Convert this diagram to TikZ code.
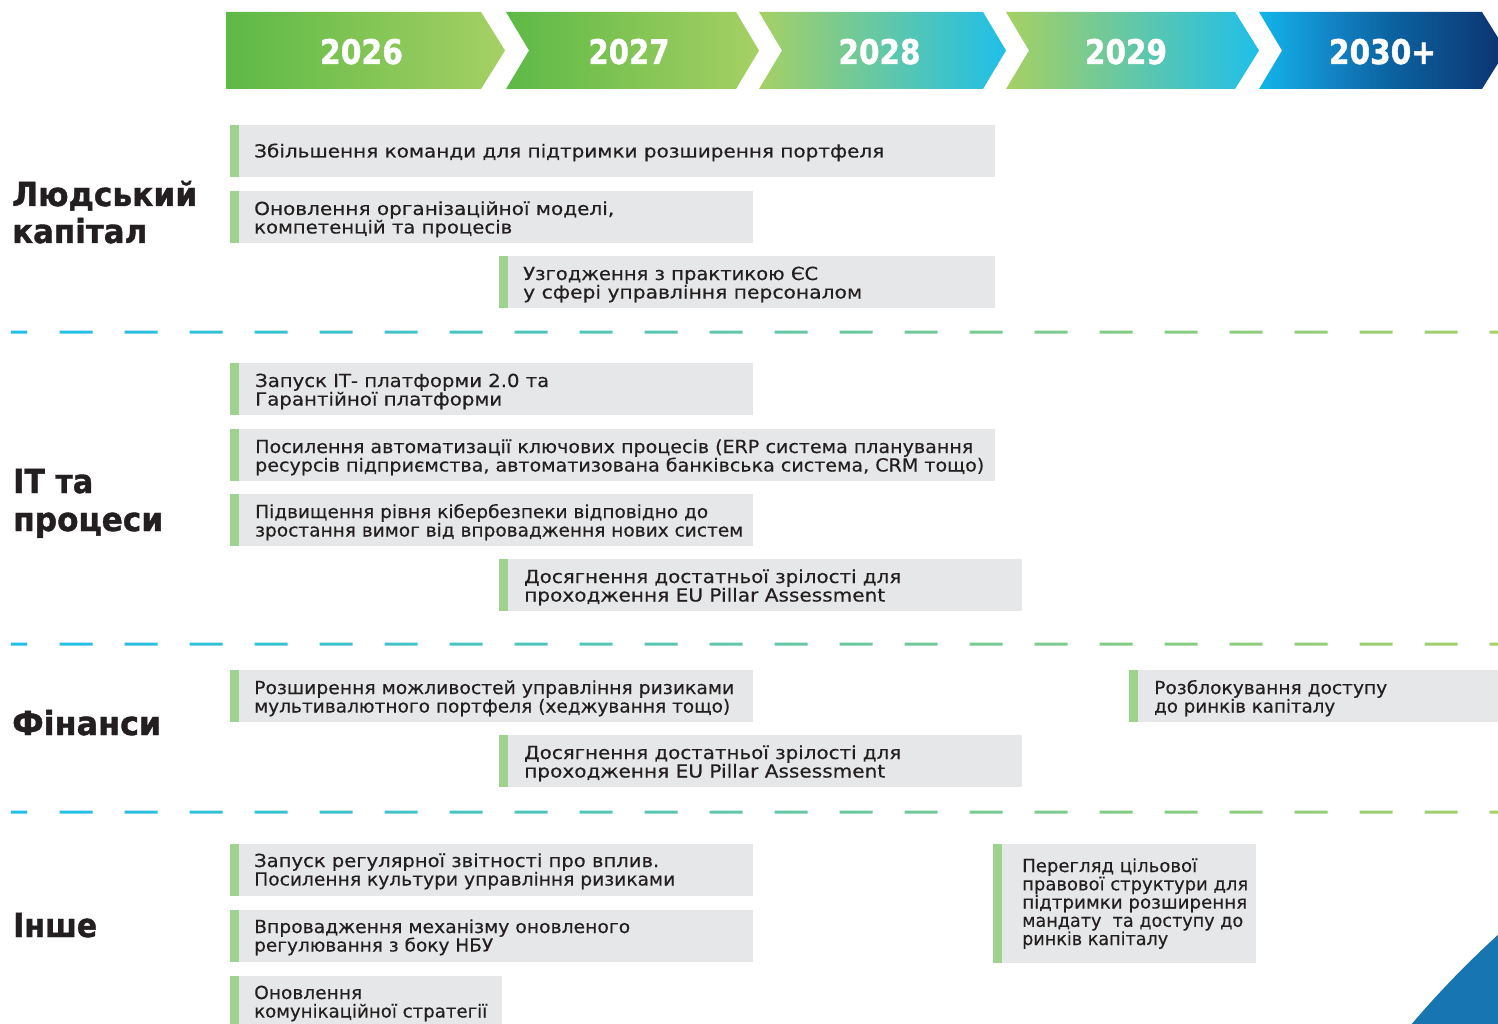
\documentclass[tikz,border=0pt]{standalone}
\usepackage{fontspec}
\setmainfont{DejaVu Sans}[BoldFeatures={FakeBold=1.2}]
\newfontfamily\bodyfont{DejaVu Sans}[FakeBold=0.35]
\usepackage{graphicx}
\definecolor{boxgray}{HTML}{E6E7E8}
\definecolor{accent}{HTML}{9FD18F}
\definecolor{ink}{HTML}{231F20}
\definecolor{gA}{HTML}{5DB946}
\definecolor{gB}{HTML}{A6D064}
\definecolor{cyanC}{HTML}{1FBFE9}
\definecolor{cyB}{HTML}{12B5EA}
\definecolor{blA}{HTML}{1283C4}
\definecolor{blB}{HTML}{0B629F}
\definecolor{navy}{HTML}{0D3270}
\definecolor{cornerblue}{HTML}{1775B2}
\pgfdeclarehorizontalshading{shG}{100bp}{color(0bp)=(gA); color(25bp)=(gA); color(75bp)=(gB); color(100bp)=(gB)}
\pgfdeclarehorizontalshading{shT}{100bp}{color(0bp)=(gB); color(25bp)=(gB); color(75bp)=(cyanC); color(100bp)=(cyanC)}
\pgfdeclarehorizontalshading{shB}{100bp}{color(0bp)=(cyB); color(25bp)=(cyB); color(40bp)=(blA); color(52bp)=(blB); color(75bp)=(navy); color(100bp)=(navy)}
\pgfdeclarehorizontalshading{shD}{100bp}{color(0bp)=(cyanC); color(25bp)=(cyanC); color(75bp)=(gB); color(100bp)=(gB)}
\newsavebox\fitbox
\newcommand\fitw[2]{\sbox\fitbox{#2}\edef\fitwd{\the\wd\fitbox}\pgfmathsetmacro\fitr{(#1)/\fitwd}\scalebox{\fitr}[1]{\usebox\fitbox}}
\newcommand\taskbox[5]{%
  \node[boxst, anchor=north west, minimum width={#4-#2}, minimum height={#5-#3}] (#1) at (#2,#3) {};
  \fill[accent] (#1.north west) rectangle ([xshift=9pt]#1.south west);}
\newcommand\tline[5]{\node[txt, anchor=base west] (#1) at (#2,#3) {\fitw{#4-#2}{#5}};}
\newcommand\dashrow[1]{%
  \shade[shading=shD] (11,#1-1.5) rectangle (27,#1+1.5)
    foreach \k in {0,...,22} {(59.5+65*\k,#1-1.5) rectangle (92.5+65*\k,#1+1.5)};}
\tikzset{
  boxst/.style={fill=boxgray, draw=none, inner sep=0pt, outer sep=0pt},
  txt/.style={inner sep=0pt, text=ink, font=\bodyfont\fontsize{18}{18}\selectfont},
  head/.style={inner sep=0pt, text=ink, font=\fontsize{33}{33}\selectfont\bfseries},
  year/.style={inner sep=0pt, text=white, font=\fontsize{34}{34}\selectfont\bfseries},
}
\begin{document}
\begin{tikzpicture}[x=1pt,y=-1pt]
\useasboundingbox (0,0) rectangle (1498,1024);
\fill[white] (0,0) rectangle (1498,1024);
\begin{scope}
\clip (0,0) rectangle (1498,1024);
% header chevrons
\shade[shading=shG] (226,12) -- (481,12) -- (505,50.5) -- (481,89) -- (226,89) -- cycle;
\shade[shading=shG] (506,12) -- (736,12) -- (759,50.5) -- (736,89) -- (506,89) -- (529,50.5) -- cycle;
\shade[shading=shT] (759,12) -- (983,12) -- (1006,50.5) -- (983,89) -- (759,89) -- (782,50.5) -- cycle;
\shade[shading=shT] (1006,12) -- (1235,12) -- (1259,50.5) -- (1235,89) -- (1006,89) -- (1029,50.5) -- cycle;
\shade[shading=shB] (1259,12) -- (1482,12) -- (1506,50.5) -- (1482,89) -- (1259,89) -- (1282,50.5) -- cycle;
\node[year, anchor=base] (y26) at (361.5,64) {\fitw{83}{2026}};
\node[year, anchor=base] (y27) at (629,64) {\fitw{81}{2027}};
\node[year, anchor=base] (y28) at (879.5,64) {\fitw{82}{2028}};
\node[year, anchor=base] (y29) at (1126,64) {\fitw{82}{2029}};
\node[year, anchor=base] (y30) at (1382.5,64) {\fitw{107}{2030+}};
% dashed separators
\dashrow{332}
\dashrow{644}
\dashrow{812}
% headings
\node[head, anchor=base west] (h1a) at (12,206) {\fitw{185}{Людський}};
\node[head, anchor=base west] (h1b) at (12,243) {\fitw{135}{капітал}};
\node[head, anchor=base west] (h2a) at (13,493) {\fitw{80}{ІТ та}};
\node[head, anchor=base west] (h2b) at (13,531) {\fitw{150}{процеси}};
\node[head, anchor=base west] (h3) at (12,735) {\fitw{149}{Фінанси}};
\node[head, anchor=base west] (h4) at (13,937) {\fitw{84}{Інше}};
% Людський капітал
\taskbox{a1}{230}{125}{995}{177}
\tline{a1t}{254}{157.5}{884}{Збільшення команди для підтримки розширення портфеля}
\taskbox{a2}{230}{191}{753}{243}
\tline{a2t1}{254}{215}{614}{Оновлення організаційної моделі,}
\tline{a2t2}{254}{233.5}{512}{компетенцій та процесів}
\taskbox{a3}{499}{256}{995}{308}
\tline{a3t1}{523}{280}{818}{Узгодження з практикою ЄС}
\tline{a3t2}{523}{298.5}{862}{у сфері управління персоналом}
% ІТ та процеси
\taskbox{b1}{230}{363}{753}{415}
\tline{b1t1}{255}{387}{549}{Запуск ІТ- платформи 2.0 та}
\tline{b1t2}{255}{405.5}{502}{Гарантійної платформи}
\taskbox{b2}{230}{429}{995}{481}
\tline{b2t1}{255}{453}{973}{Посилення автоматизації ключових процесів (ERP система планування}
\tline{b2t2}{255}{471.5}{984}{ресурсів підприємства, автоматизована банківська система, CRM тощо)}
\taskbox{b3}{230}{494}{753}{546}
\tline{b3t1}{255}{518}{708}{Підвищення рівня кібербезпеки відповідно до}
\tline{b3t2}{255}{536.5}{743}{зростання вимог від впровадження нових систем}
\taskbox{b4}{499}{559}{1022}{611}
\tline{b4t1}{524}{583}{901}{Досягнення достатньої зрілості для}
\tline{b4t2}{524}{601.5}{885}{проходження EU Pillar Assessment}
% Фінанси
\taskbox{c1}{230}{670}{753}{722}
\tline{c1t1}{254}{694}{734}{Розширення можливостей управління ризиками}
\tline{c1t2}{254}{712.5}{730}{мультивалютного портфеля (хеджування тощо)}
\taskbox{c2}{1129}{670}{1510}{722}
\tline{c2t1}{1154}{694}{1387}{Розблокування доступу}
\tline{c2t2}{1154}{712.5}{1335}{до ринків капіталу}
\taskbox{c3}{499}{735}{1022}{787}
\tline{c3t1}{524}{759}{901}{Досягнення достатньої зрілості для}
\tline{c3t2}{524}{777.5}{885}{проходження EU Pillar Assessment}
% Інше
\taskbox{d1}{230}{844}{753}{896}
\tline{d1t1}{254}{867}{659}{Запуск регулярної звітності про вплив.}
\tline{d1t2}{254}{885.5}{675}{Посилення культури управління ризиками}
\taskbox{d2}{230}{910}{753}{962}
\tline{d2t1}{254}{933}{630}{Впровадження механізму оновленого}
\tline{d2t2}{254}{951.5}{493}{регулювання з боку НБУ}
\taskbox{d3}{230}{976}{502}{1040}
\tline{d3t1}{254}{999}{362}{Оновлення}
\tline{d3t2}{254}{1017.5}{487}{комунікаційної стратегії}
\taskbox{d4}{993}{844}{1256}{963}
\tline{d4t1}{1022}{872}{1197}{Перегляд цільової}
\tline{d4t2}{1022}{890.3}{1248}{правової структури для}
\tline{d4t3}{1022}{908.5}{1247}{підтримки розширення}
\tline{d4t4}{1022}{926.8}{1243}{мандату~ та доступу до}
\tline{d4t5}{1022}{945}{1168}{ринків капіталу}
% corner
\fill[cornerblue] (1410,1026) .. controls (1438,993) and (1468,962) .. (1500,933) -- (1500,1026) -- cycle;
\end{scope}
\end{tikzpicture}
\end{document}
